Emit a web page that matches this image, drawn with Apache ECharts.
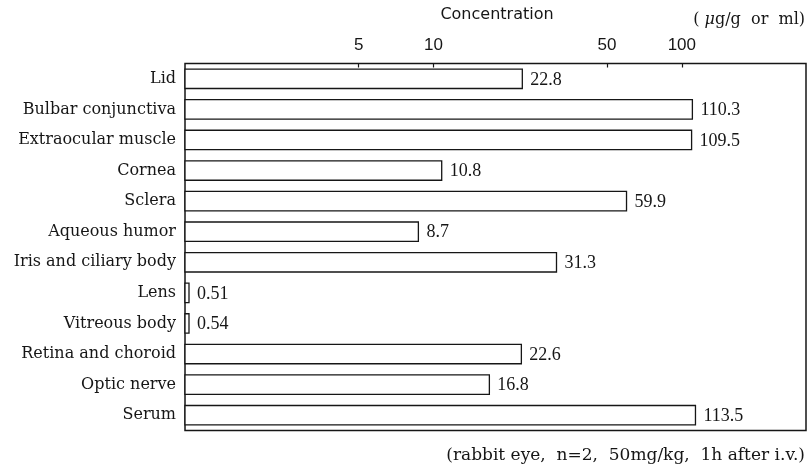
<!DOCTYPE html>
<html>
<head>
<meta charset="utf-8">
<script src="https://cdn.jsdelivr.net/npm/echarts@6/dist/echarts.min.js"></script>
<style>
  html, body { margin: 0; padding: 0; background: #fff; }
  #chart { width: 807px; height: 470px; }
</style>
</head>
<body>
<div id="chart"></div>
<script>
// Tissue concentrations in the rabbit eye (µg/g or ml)
const tissues = [
  'Lid', 'Bulbar conjunctiva', 'Extraocular muscle', 'Cornea', 'Sclera',
  'Aqueous humor', 'Iris and ciliary body', 'Lens', 'Vitreous body',
  'Retina and choroid', 'Optic nerve', 'Serum'
];
const concentrations = [22.8, 110.3, 109.5, 10.8, 59.9, 8.7, 31.3, 0.51, 0.54, 22.6, 16.8, 113.5];
const tickValues = [5, 10, 50, 100];
const axisMin = 1;
const axisMax = 316.2;

const INK = '#161616';
const STUB = 4; // values below the axis start are shown as a short stub

function renderBar(params, api) {
  const row = api.value(0);
  const value = api.value(1);
  const origin = api.coord([axisMin, row]);
  const end = api.coord([value, row]);
  const band = api.size([1, 1])[1];
  const h = band * 0.635;
  const right = Math.max(end[0], origin[0] + STUB);
  return {
    type: 'group',
    children: [
      {
        type: 'rect',
        shape: { x: origin[0], y: origin[1] - h / 2, width: right - origin[0], height: h },
        style: { fill: '#fff', stroke: INK, lineWidth: 1.3 }
      },
      {
        type: 'text',
        x: right + 8,
        y: origin[1] + 1,
        style: {
          text: String(concentrations[params.dataIndex]),
          fill: INK,
          font: '18px "Liberation Serif"',
          textAlign: 'left',
          textVerticalAlign: 'middle'
        }
      }
    ]
  };
}

const chart = echarts.init(document.getElementById('chart'), null, { renderer: 'canvas' });
chart.setOption({
  animation: false,
  backgroundColor: '#fff',
  grid: {
    left: 185, right: 1, top: 63.5, bottom: 39.5,
    show: true, borderColor: INK, borderWidth: 1.5,
    outerBoundsMode: 'none'
  },
  xAxis: {
    type: 'log',
    logBase: 10,
    position: 'top',
    min: axisMin,
    max: axisMax,
    axisLine: { show: false },
    splitLine: { show: false },
    minorTick: { show: false },
    axisTick: { show: true, inside: true, length: 4, customValues: tickValues, lineStyle: { color: INK, width: 1.2 } },
    axisLabel: {
      customValues: tickValues,
      margin: 10,
      color: INK,
      fontFamily: '"Liberation Sans Narrow", "Liberation Sans"',
      fontSize: 17
    }
  },
  yAxis: {
    type: 'category',
    inverse: true,
    data: tissues,
    axisLine: { show: false },
    axisTick: { show: false },
    splitLine: { show: false },
    axisLabel: { margin: 9, color: INK, fontFamily: '"DejaVu Serif"', fontSize: 16 }
  },
  series: [{
    type: 'custom',
    renderItem: renderBar,
    encode: { y: 0, x: 1 },
    data: concentrations.map((v, i) => [tissues[i], v])
  }],
  graphic: [
    {
      type: 'text', x: 497, y: 15,
      style: { text: 'Concentration', fill: INK, font: '16px "DejaVu Sans"', textAlign: 'center', textVerticalAlign: 'middle' }
    },
    {
      type: 'text', x: 805, y: 20,
      style: {
        text: '( {mu|μ}g/g  or  ml)',
        fill: INK, font: '16px "DejaVu Serif"', textAlign: 'right', textVerticalAlign: 'middle',
        rich: { mu: { fontStyle: 'italic', fontFamily: '"DejaVu Serif"', fontSize: 16, fill: INK } }
      }
    },
    {
      type: 'text', x: 805, y: 456,
      style: { text: '(rabbit eye,  n=2,  50mg/kg,  1h after i.v.)', fill: INK, font: '17px "DejaVu Serif"', textAlign: 'right', textVerticalAlign: 'middle' }
    }
  ]
});
</script>
</body>
</html>
